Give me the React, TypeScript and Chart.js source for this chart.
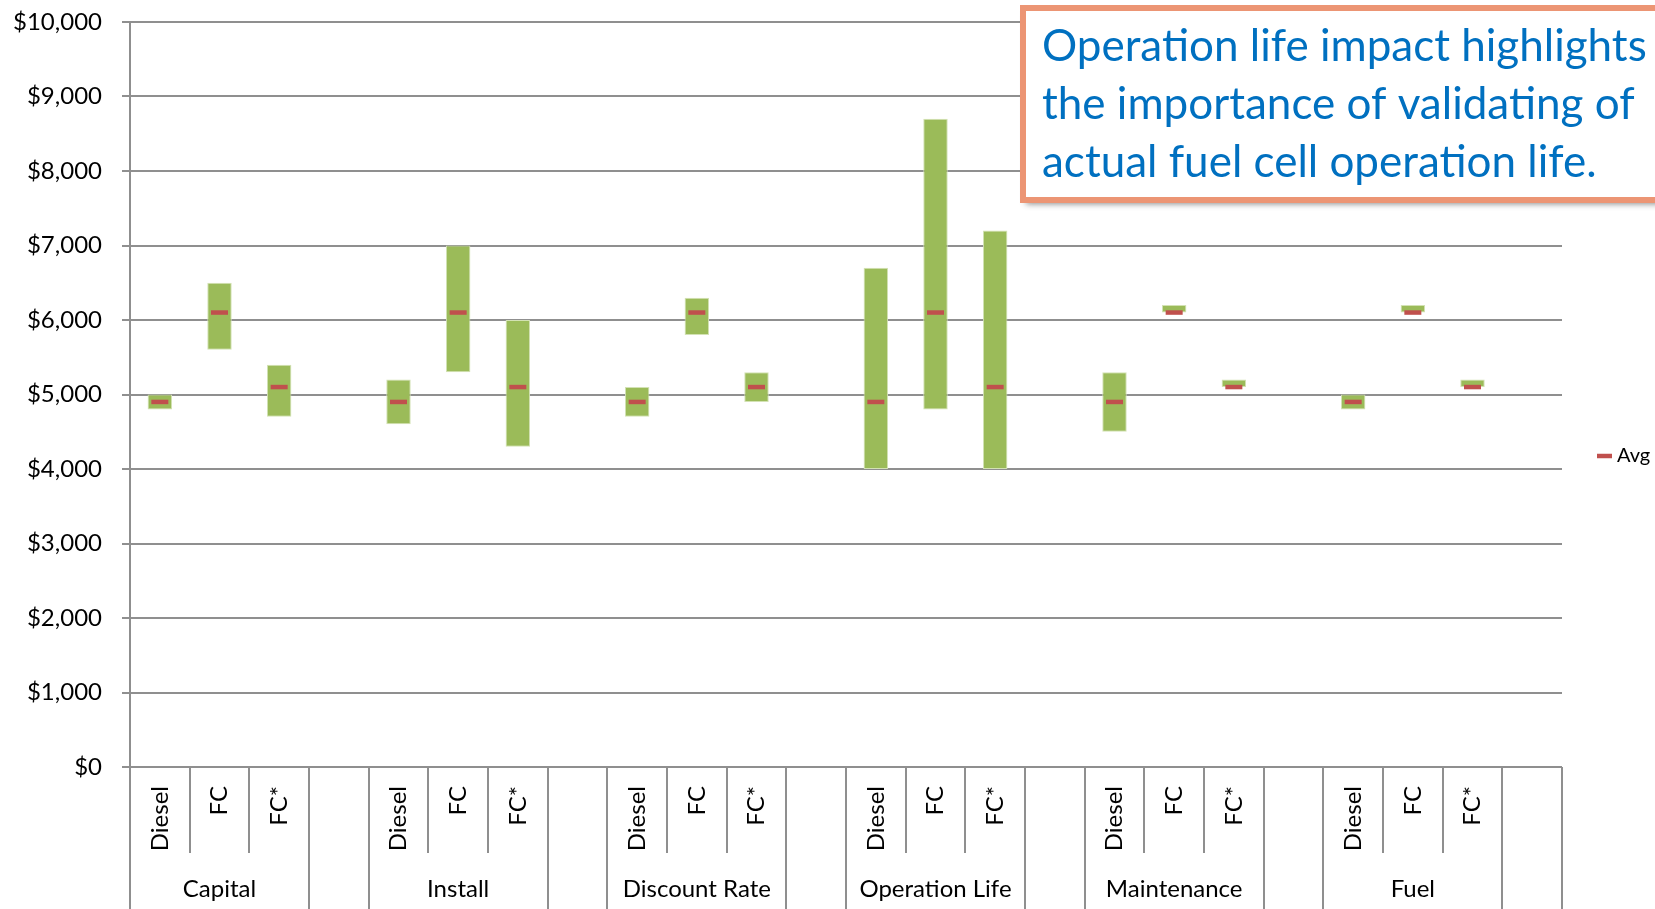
import React, { useEffect, useRef } from "react";
import { Chart, registerables } from "chart.js";
Chart.register(...registerables);

const groupNames = ["Capital", "Install", "Discount Rate", "Operation Life", "Maintenance", "Fuel"];
const seriesNames = ["Diesel", "FC", "FC*"];
const lowValues = [4800, 5600, 4700, 4600, 5300, 4300, 4700, 5800, 4900, 4000, 4800, 4000, 4500, 6100, 5100, 4800, 6100, 5100];
const highValues = [5000, 6500, 5400, 5200, 7000, 6000, 5100, 6300, 5300, 6700, 8700, 7200, 5300, 6200, 5200, 5000, 6200, 5200];
const avgValues = [4900, 6100, 5100, 4900, 6100, 5100, 4900, 6100, 5100, 4900, 6100, 5100, 4900, 6100, 5100, 4900, 6100, 5100];
const yMin = 0;
const yMax = 10000;
const yStep = 1000;
const legendLabel = "Avg";
const annotationLines = [
  "Operation life impact highlights",
  "the importance of validating of",
  "actual fuel cell operation life.",
];

type Slot = { sub: string; group: string; index: number } | null;
const slots: Slot[] = [];
groupNames.forEach((g, gi) => {
  seriesNames.forEach((s, si) => slots.push({ sub: s, group: g, index: gi * seriesNames.length + si }));
  slots.push(null);
});

const FONT = "Lato, 'Open Sans', sans-serif";
const GRID = "#8f8f8f";
const BAR = "#9BBB59";
const AVG = "#C0504D";

export default function App() {
  const ref = useRef<HTMLCanvasElement | null>(null);
  useEffect(() => {
    document.body.style.margin = "0";
    const canvas = ref.current!;
    const overlay = {
      id: "overlay",
      afterDraw(chart: any) {
        const ctx = chart.ctx as CanvasRenderingContext2D;
        const area = chart.chartArea;
        const xs = chart.scales.x;
        const n = slots.length;
        const boundary = (k: number) => {
          if (k === 0) return area.left;
          if (k === n) return area.right;
          return (xs.getPixelForValue(k - 1) + xs.getPixelForValue(k)) / 2;
        };
        ctx.save();
        ctx.strokeStyle = GRID;
        ctx.lineWidth = 2;
        for (let k = 0; k <= n; k++) {
          const prev = k > 0 ? slots[k - 1] : null;
          const next = k < n ? slots[k] : null;
          const inner = prev && next && prev.group === next.group;
          const x = Math.round(boundary(k));
          ctx.beginPath();
          ctx.moveTo(x, area.bottom);
          ctx.lineTo(x, inner ? 853 : 909);
          ctx.stroke();
        }
        ctx.fillStyle = "#000";
        ctx.font = `24px ${FONT}`;
        slots.forEach((s, i) => {
          if (!s) return;
          const x = xs.getPixelForValue(i);
          ctx.save();
          ctx.translate(x, 786);
          ctx.rotate(-Math.PI / 2);
          ctx.textAlign = "right";
          ctx.textBaseline = "middle";
          ctx.fillText(s.sub, 0, 0);
          ctx.restore();
        });
        ctx.textAlign = "center";
        ctx.textBaseline = "middle";
        groupNames.forEach((g) => {
          const idx = slots.map((s, i) => (s && s.group === g ? i : -1)).filter((i) => i >= 0);
          const x = (boundary(idx[0]) + boundary(idx[idx.length - 1] + 1)) / 2;
          ctx.fillText(g, x, 889);
        });
        // legend
        ctx.strokeStyle = AVG;
        ctx.lineWidth = 4.5;
        ctx.beginPath();
        ctx.moveTo(1597, 456);
        ctx.lineTo(1612, 456);
        ctx.stroke();
        ctx.font = `20px ${FONT}`;
        ctx.textAlign = "left";
        ctx.fillText(legendLabel, 1617, 456);
        // annotation box
        ctx.save();
        ctx.shadowColor = "rgba(0,0,0,0.45)";
        ctx.shadowBlur = 6;
        ctx.shadowOffsetX = 3;
        ctx.shadowOffsetY = 4;
        ctx.fillStyle = "#fff";
        ctx.fillRect(1023, 8, 700, 192);
        ctx.restore();
        ctx.strokeStyle = "#EC9574";
        ctx.lineWidth = 6;
        ctx.strokeRect(1023, 8, 700, 192);
        ctx.fillStyle = "#0070C0";
        ctx.font = `44px ${FONT}`;
        ctx.textAlign = "left";
        ctx.textBaseline = "middle";
        annotationLines.forEach((t, i) => ctx.fillText(t, 1042, 47 + i * 58));
        ctx.restore();
      },
    };
    const chart = new Chart(canvas, {
      type: "bar",
      data: {
        labels: slots.map((s) => (s ? s.sub : "")),
        datasets: [
          {
            type: "line",
            label: legendLabel,
            data: slots.map((s) => (s ? avgValues[s.index] : null)),
            showLine: false,
            pointStyle: "line",
            pointRadius: 8.5,
            pointHoverRadius: 8.5,
            pointBorderWidth: 4.5,
            borderColor: AVG,
            backgroundColor: AVG,
            order: 0,
          } as any,
          {
            type: "bar",
            label: "Range",
            data: slots.map((s) => (s ? [lowValues[s.index], highValues[s.index]] : null)) as any,
            backgroundColor: BAR,
            borderColor: "#d3e2b4",
            borderWidth: 1,
            borderSkipped: false,
            barPercentage: 0.41,
            categoryPercentage: 1,
            order: 1,
          },
        ],
      },
      options: {
        responsive: false,
        animation: false,
        layout: { padding: { top: 22, right: 93, bottom: 142, left: 0 } },
        plugins: { legend: { display: false }, tooltip: { enabled: false } },
        scales: {
          x: { type: "category", display: false, offset: true, grid: { display: false } },
          y: {
            min: yMin,
            max: yMax,
            afterFit: (scale: any) => {
              scale.width = 130;
              scale.paddingTop = 0;
              scale.paddingBottom = 0;
            },
            ticks: {
              stepSize: yStep,
              padding: 20,
              color: "#000",
              font: { family: FONT, size: 24 },
              callback: (v: any) => "$" + Number(v).toLocaleString("en-US"),
            },
            grid: { color: GRID, lineWidth: 2, tickLength: 8, drawTicks: true },
            border: { display: true, color: GRID, width: 2 },
          },
        },
      },
      plugins: [overlay],
    });
    return () => chart.destroy();
  }, []);
  return <canvas ref={ref} width={1655} height={909} style={{ display: "block" }} />;
}
